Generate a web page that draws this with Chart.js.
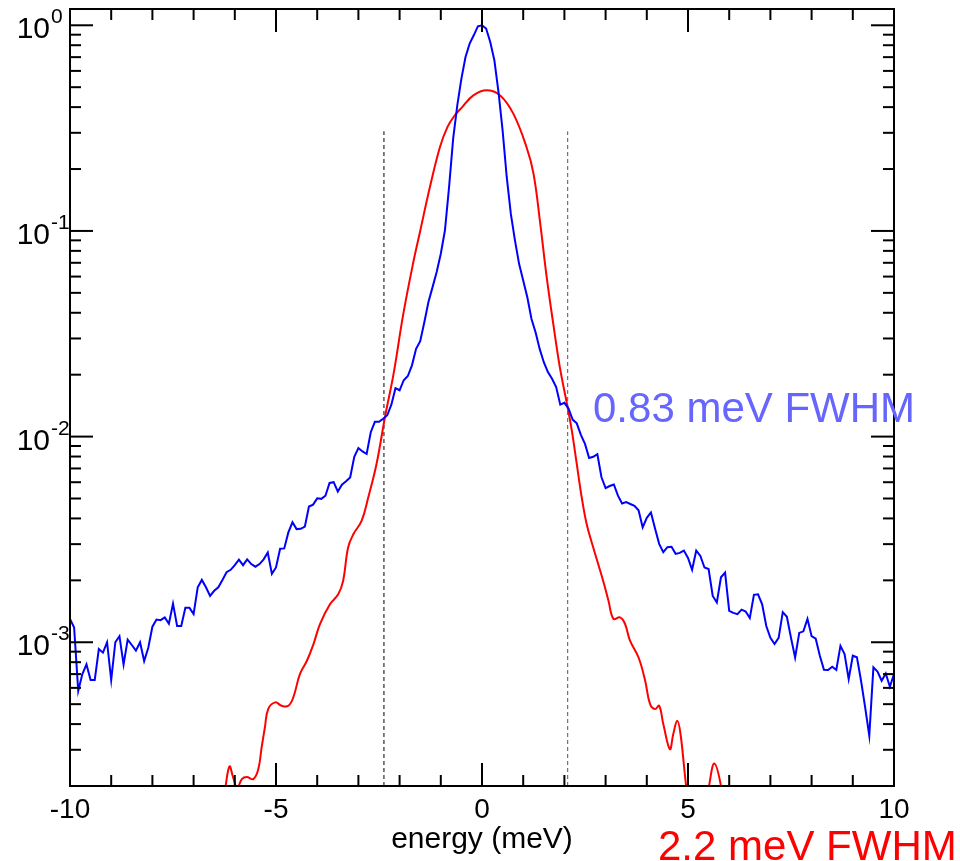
<!DOCTYPE html>
<html>
<head>
<meta charset="utf-8">
<script src="https://cdn.jsdelivr.net/npm/chart.js@4.4.1/dist/chart.umd.min.js"></script>
<style>
html,body{margin:0;padding:0;background:#fff;}
#wrap{width:960px;height:861px;position:relative;}
</style>
</head>
<body>
<div id="wrap"><canvas id="c" width="960" height="861"></canvas></div>
<script>
// ---------------- data ----------------
// narrow-resolution spectrum: bins every 0.1 meV from -10 to +10 meV
const blueEnergyStart = -10;
const blueEnergyStep = 0.1;
const blueValues = [
  1.30e-3, 1.18e-3, 0.58e-3, 0.70e-3, 0.78e-3, 0.655e-3, 0.655e-3, 0.927e-3, 0.89e-3, 1.00e-3,   // -10.0 .. -9.1
  0.655e-3, 1.00e-3, 1.07e-3, 0.78e-3, 1.03e-3, 0.97e-3, 0.91e-3, 1.00e-3, 0.81e-3, 0.94e-3,    // -9.0 .. -8.1
  1.19e-3, 1.29e-3, 1.28e-3, 1.32e-3, 1.23e-3, 1.54e-3, 1.20e-3, 1.20e-3, 1.47e-3, 1.47e-3,     // -8.0 .. -7.1
  1.37e-3, 1.85e-3, 2.01e-3, 1.85e-3, 1.68e-3, 1.78e-3, 1.85e-3, 2.01e-3, 2.19e-3, 2.25e-3,     // -7.0 .. -6.1
  2.37e-3, 2.52e-3, 2.37e-3, 2.53e-3, 2.40e-3, 2.33e-3, 2.40e-3, 2.53e-3, 2.73e-3, 2.15e-3,     // -6.0 .. -5.1
  2.31e-3, 2.85e-3, 2.86e-3, 3.42e-3, 3.83e-3, 3.55e-3, 3.56e-3, 3.65e-3, 4.57e-3, 4.67e-3,     // -5.0 .. -4.1
  5.01e-3, 4.98e-3, 5.16e-3, 5.95e-3, 6.00e-3, 5.40e-3, 5.84e-3, 6.06e-3, 6.33e-3, 7.98e-3,     // -4.0 .. -3.1
  8.80e-3, 8.47e-3, 8.23e-3, 1.05e-2, 1.18e-2, 1.18e-2, 1.22e-2, 1.27e-2, 1.43e-2, 1.72e-2,     // -3.0 .. -2.1
  1.68e-2, 1.88e-2, 1.97e-2, 2.22e-2, 2.67e-2, 2.91e-2, 3.60e-2, 4.51e-2, 5.33e-2, 6.31e-2,     // -2.0 .. -1.1
  7.75e-2, 0.1005, 0.163, 0.281, 0.408, 0.550, 0.701, 0.814, 0.894, 0.989,                     // -1.0 .. -0.1
  1.000,                                                                                        //  0.0
  0.964, 0.830, 0.676, 0.474, 0.308, 0.183, 0.121, 0.090, 0.0692, 0.0574,                       //  0.1 .. 1.0
  0.0476, 0.0374, 0.0322, 0.0267, 0.0230, 0.0206, 0.0191, 0.0174, 0.0143, 0.0146,              //  1.1 .. 2.0
  0.0137, 0.0121, 0.0116, 0.0102, 9.21e-3, 7.87e-3, 7.98e-3, 8.21e-3, 6.34e-3, 5.62e-3,         //  2.1 .. 3.0
  5.75e-3, 5.85e-3, 5.16e-3, 4.73e-3, 4.80e-3, 4.70e-3, 4.61e-3, 4.38e-3, 3.62e-3, 4.03e-3,     //  3.1 .. 4.0
  4.28e-3, 3.57e-3, 3.01e-3, 2.74e-3, 2.90e-3, 2.91e-3, 2.69e-3, 2.72e-3, 2.79e-3, 2.57e-3,     //  4.1 .. 5.0
  2.25e-3, 2.79e-3, 2.63e-3, 2.31e-3, 2.27e-3, 1.68e-3, 1.56e-3, 2.07e-3, 2.18e-3, 1.42e-3,     //  5.1 .. 6.0
  1.39e-3, 1.37e-3, 1.44e-3, 1.41e-3, 1.31e-3, 1.70e-3, 1.71e-3, 1.53e-3, 1.20e-3, 1.05e-3,     //  6.1 .. 7.0
  0.98e-3, 1.05e-3, 1.40e-3, 1.33e-3, 1.05e-3, 0.843e-3, 1.11e-3, 1.13e-3, 1.30e-3, 1.07e-3,    //  7.1 .. 8.0
  1.04e-3, 0.86e-3, 0.735e-3, 0.733e-3, 0.76e-3, 0.733e-3, 0.96e-3, 0.876e-3, 0.662e-3, 0.86e-3, // 8.1 .. 9.0
  0.845e-3, 0.65e-3, 0.482e-3, 0.351e-3, 0.755e-3, 0.721e-3, 0.65e-3, 0.705e-3, 0.608e-3, 0.70e-3 // 9.1 .. 10.0
];

// broad-resolution spectrum (smooth curve)
const redEnergies = [
  -6.40, -6.24, -6.13, -6.04, -5.94, -5.83, -5.71, -5.55, -5.43, -5.35,
  -5.27, -5.19, -5.02, -4.86, -4.70, -4.58, -4.42, -4.25, -4.09, -3.93,
  -3.69, -3.49, -3.37, -3.25, -3.12, -2.92, -2.76, -2.56, -2.35, -2.15,
  -1.91, -1.67, -1.50, -1.26, -1.02, -0.84, -0.66, -0.49, -0.21, 0.11,
  0.44, 0.76, 1.08, 1.25, 1.41, 1.57, 1.73, 1.89, 2.06, 2.18,
  2.30, 2.42, 2.54, 2.70, 2.94, 3.07, 3.19, 3.35, 3.47, 3.59,
  3.80, 3.96, 4.08, 4.20, 4.30, 4.40, 4.56, 4.64, 4.74, 4.82,
  4.97, 5.20, 5.50, 5.64, 5.82, 6.00
];
const redValues = [
  1.3e-4, 1.9e-4, 2.49e-4, 2.2e-4, 1.95e-4, 2.16e-4, 2.21e-4, 2.16e-4, 2.41e-4, 3.07e-4,
  3.85e-4, 4.73e-4, 5.10e-4, 4.91e-4, 4.91e-4, 5.39e-4, 7.00e-4, 8.13e-4, 9.8e-4, 1.23e-3,
  1.53e-3, 1.71e-3, 1.99e-3, 2.89e-3, 3.36e-3, 3.90e-3, 5.07e-3, 7.36e-3, 1.26e-2, 2.0e-2,
  3.95e-2, 7.0e-2, 0.100, 0.165, 0.256, 0.320, 0.365, 0.398, 0.456, 0.483,
  0.456, 0.372, 0.256, 0.190, 0.110, 0.0596, 0.0353, 0.0217, 0.0145, 0.0107,
  7.36e-3, 5.07e-3, 3.76e-3, 2.89e-3, 1.99e-3, 1.59e-3, 1.30e-3, 1.32e-3, 1.23e-3, 1.02e-3,
  8.43e-4, 6.50e-4, 5.00e-4, 4.73e-4, 4.91e-4, 4.00e-4, 3.02e-4, 3.56e-4, 4.15e-4, 3.56e-4,
  1.9e-4, 1.0e-4, 1.95e-4, 2.57e-4, 1.9e-4, 1.0e-4
];

// dashed FWHM markers of the broad curve
const fwhmMarkerEnergies = [-2.38, 2.08];
const fwhmMarkerTop = 0.305;

// axes
const xRange = [-10, 10];
const yRange = [2e-4, 1.2];
const xMajorTicks = [-10, -5, 0, 5, 10];
const xMinorTicks = [-9, -8, -7, -6, -4, -3, -2, -1, 1, 2, 3, 4, 6, 7, 8, 9];
const yDecadeExponents = [-3, -2, -1, 0];
const yMinorMultipliers = [2, 3, 4, 5, 6, 7, 8, 9];
const xAxisTitle = 'energy (meV)';
const blueLabel = '0.83 meV FWHM';
const redLabel = '2.2 meV FWHM';

// ---------------- build ----------------
const blueData = blueValues.map((v, i) => ({ x: +(blueEnergyStart + i * blueEnergyStep).toFixed(2), y: v }));
const redData = redEnergies.map((e, i) => ({ x: e, y: redValues[i] }));
const markerSets = fwhmMarkerEnergies.map((e, i) => ({
  data: [{ x: e, y: yRange[0] }, { x: e, y: fwhmMarkerTop }],
  borderColor: i === 0 ? '#000000' : '#555555',
  borderWidth: 1,
  borderDash: [4, 3],
  pointRadius: 0,
  tension: 0,
  order: 3
}));

const FONT = '"Liberation Sans", Arial, Helvetica, sans-serif';

const framePlugin = {
  id: 'rootFrame',
  afterDatasetsDraw(chart) {
    const { ctx, chartArea: a, scales: { x, y } } = chart;
    ctx.save();
    ctx.strokeStyle = '#000';
    ctx.lineWidth = 2;
    ctx.lineCap = 'butt';
    const MAJ = 23, MIN = 11;
    const line = (x1, y1, x2, y2) => { ctx.beginPath(); ctx.moveTo(x1, y1); ctx.lineTo(x2, y2); ctx.stroke(); };
    // x ticks (inward, top and bottom)
    xMajorTicks.forEach(v => { const px = x.getPixelForValue(v); line(px, a.bottom, px, a.bottom - MAJ); line(px, a.top, px, a.top + MAJ); });
    xMinorTicks.forEach(v => { const px = x.getPixelForValue(v); line(px, a.bottom, px, a.bottom - MIN); line(px, a.top, px, a.top + MIN); });
    // y ticks (inward, left and right)
    yDecadeExponents.forEach(k => {
      const py = y.getPixelForValue(Math.pow(10, k));
      line(a.left, py, a.left + MAJ, py); line(a.right, py, a.right - MAJ, py);
    });
    [-4].concat(yDecadeExponents).forEach(k => {
      yMinorMultipliers.forEach(m => {
        const v = m * Math.pow(10, k);
        if (v < yRange[0] * 0.999 || v > yRange[1]) return;
        const py = y.getPixelForValue(v);
        line(a.left, py, a.left + MIN, py); line(a.right, py, a.right - MIN, py);
      });
    });
    // frame
    ctx.strokeRect(a.left, a.top, a.right - a.left, a.bottom - a.top);

    // x tick labels
    ctx.fillStyle = '#000';
    ctx.font = '28px ' + FONT;
    ctx.textAlign = 'center';
    ctx.textBaseline = 'alphabetic';
    xMajorTicks.forEach(v => ctx.fillText(String(v), x.getPixelForValue(v), 818));
    // x title
    ctx.font = '30px ' + FONT;
    ctx.fillText(xAxisTitle, x.getPixelForValue(0), 848);

    // y tick labels: 10^k
    yDecadeExponents.forEach(k => {
      const py = y.getPixelForValue(Math.pow(10, k));
      ctx.font = '30px ' + FONT;
      ctx.textAlign = 'right';
      ctx.fillText('10', 50, py + 13);
      ctx.font = '21px ' + FONT;
      ctx.textAlign = 'left';
      ctx.fillText(String(k), 51, py - 2);
    });

    // annotations
    ctx.textAlign = 'left';
    ctx.font = '42px ' + FONT;
    ctx.fillStyle = '#6666ff';
    ctx.fillText(blueLabel, 593, 422);
    ctx.fillStyle = '#ff0000';
    ctx.fillText(redLabel, 658, 860);
    ctx.restore();
  }
};

new Chart(document.getElementById('c'), {
  type: 'line',
  data: {
    datasets: [
      { label: blueLabel, data: blueData, borderColor: '#0000ff', borderWidth: 2, pointRadius: 0, tension: 0, order: 0 },
      { label: redLabel, data: redData, borderColor: '#ff0000', borderWidth: 2, pointRadius: 0, tension: 0.4, order: 1 },
      ...markerSets
    ]
  },
  options: {
    responsive: false,
    animation: false,
    devicePixelRatio: 1,
    layout: { padding: { left: 70, right: 66, top: 9, bottom: 75 } },
    plugins: { legend: { display: false }, tooltip: { enabled: false } },
    scales: {
      x: { type: 'linear', min: xRange[0], max: xRange[1], display: false },
      y: { type: 'logarithmic', min: yRange[0], max: yRange[1], display: false }
    }
  },
  plugins: [framePlugin]
});
</script>
</body>
</html>
